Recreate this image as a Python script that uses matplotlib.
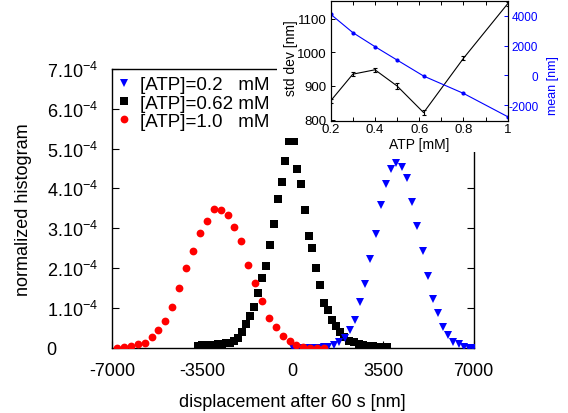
import matplotlib
matplotlib.use('Agg')
import matplotlib.pyplot as plt
from matplotlib.patches import Rectangle
from matplotlib.lines import Line2D
import numpy as np

plt.rcParams['font.family'] = ['Liberation Sans', 'DejaVu Sans']
plt.rcParams['mathtext.fontset'] = 'custom'
plt.rcParams['mathtext.rm'] = 'Liberation Sans'
plt.rcParams['mathtext.default'] = 'regular'
plt.rcParams['axes.unicode_minus'] = False

# ---------------- data: main histogram (y in units of 1e-4) ----------------
red_x = [-6816, -6540, -6270, -6000, -5730, -5460, -5200, -4930, -4660, -4400,
         -4130, -3860, -3590, -3320, -3060, -2790, -2520, -2260, -1990, -1720,
         -1450, -1190, -930, -660, -395, -125, 140, 410, 670, 940, 1210]
red_y = [0.00, 0.03, 0.05, 0.09, 0.13, 0.26, 0.45, 0.66, 1.02, 1.51,
         1.99, 2.43, 2.88, 3.18, 3.49, 3.47, 3.34, 3.04, 2.67, 2.08,
         1.62, 1.18, 0.75, 0.52, 0.30, 0.17, 0.08, 0.01, 0.0, 0.0, 0.0]

black_x = [-3667, -3513, -3358, -3203, -3048, -2893, -2738, -2583, -2428, -2273,
           -2118, -1964, -1809, -1654, -1499, -1344, -1189, -1034, -879, -724,
           -569, -434, -298, -143, 31, 167, 321, 476, 631, 747,
           902, 1057, 1212, 1367, 1522, 1677, 1832, 1998, 2180, 2373,
           2556, 2734, 2928, 3122, 3315, 3509, 3652]
black_y = [0.055, 0.06, 0.063, 0.068, 0.076, 0.086, 0.093, 0.106, 0.118, 0.156,
           0.244, 0.395, 0.584, 0.798, 1.018, 1.365, 1.756, 2.045, 2.569, 3.108,
           3.733, 4.166, 4.690, 5.194, 5.194, 4.476, 4.123, 3.469, 2.806, 2.511,
           2.0, 1.579, 1.126, 0.957, 0.705, 0.539, 0.403, 0.262, 0.176, 0.136,
           0.093, 0.068, 0.05, 0.035, 0.025, 0.018, 0.018]

blue_x = [12, 205, 399, 593, 806, 999, 1193, 1379, 1580, 1805,
          2026, 2208, 2424, 2607, 2812, 3005, 3215, 3420, 3614, 3807,
          4001, 4222, 4415, 4632, 4814, 5035, 5229, 5422, 5639, 5833,
          6026, 6220, 6452, 6634, 6816, 6995]
blue_y = [0.0, 0.0, 0.0, 0.0, 0.0, 0.0, 0.01, 0.03, 0.068, 0.136,
          0.244, 0.438, 0.69, 1.144, 1.605, 2.234, 2.856, 3.594, 4.106, 4.476,
          4.645, 4.544, 4.267, 3.652, 3.065, 2.418, 1.806, 1.227, 0.874, 0.529,
          0.327, 0.151, 0.093, 0.025, 0.0, 0.0]

labels = ['[ATP]=0.2   mM', '[ATP]=0.62 mM', '[ATP]=1.0   mM']
x_ticks = [-7000, -3500, 0, 3500, 7000]
x_ticklabels = ['-7000', '-3500', '0', '3500', '7000']
y_ticks = [0, 1, 2, 3, 4, 5, 6, 7]
y_ticklabels = ['0'] + ['%d.10$^{-4}$' % k for k in range(1, 8)]

# ---------------- data: inset ----------------
atp = [0.2, 0.3, 0.4, 0.5, 0.62, 0.8, 1.0]
std_dev = [856, 935, 948, 900, 821, 982, 1144]
std_err = [6, 5, 6, 8, 8, 6, 6]
mean_disp = [4108, 2875, 1932, 1030, -47, -1212, -2781]
inset_xticks = [0.2, 0.4, 0.6, 0.8, 1.0]
inset_xticklabels = ['0.2', '0.4', '0.6', '0.8', '1']
inset_xminor = [0.3, 0.5, 0.7, 0.9]
inset_yticks = [800, 900, 1000, 1100]
inset_rticks = [-2000, 0, 2000, 4000]

# ---------------- figure ----------------
fig = plt.figure(figsize=(5.68, 4.14), dpi=100)
W, H = 568.0, 414.0
ax = fig.add_axes([112 / W, 1 - 348.7 / H, 361.5 / W, 278.7 / H])
ax.set_zorder(0)

scale = 1e-4
ax.plot(black_x, np.array(black_y) * scale, ls='none', marker='s', ms=5.6,
        color='black', mew=0, zorder=3)
ax.plot(blue_x, np.array(blue_y) * scale, ls='none', marker='v', ms=6.2,
        color='#0000ff', mew=0, zorder=4)
ax.plot(red_x, np.array(red_y) * scale, ls='none', marker='o', ms=5.6,
        color='#ff0000', mew=0, zorder=5)

ax.set_xlim(-7000, 7000)
ax.set_ylim(0, 7e-4)
ax.set_xticks(x_ticks)
ax.set_xticklabels(x_ticklabels)
ax.set_yticks(np.array(y_ticks) * scale)
ax.set_yticklabels(y_ticklabels)
ax.tick_params(direction='in', length=5, width=0.8, labelsize=13, right=True,
               top=False, bottom=True)
ax.tick_params(axis='x', pad=10)
ax.tick_params(axis='y', pad=47)
for lbl in ax.get_yticklabels():
    lbl.set_horizontalalignment('left')
for s in ax.spines.values():
    s.set_linewidth(1.0)

ax.set_xlabel('displacement after 60 s [nm]', fontsize=13)
ax.set_ylabel('normalized histogram', fontsize=13)
ax.xaxis.set_label_coords(0.5, -0.163)
ax.yaxis.set_label_coords(-0.222, 0.5)

handles = [
    Line2D([], [], ls='none', marker='v', ms=6.2, color='#0000ff', mew=0),
    Line2D([], [], ls='none', marker='s', ms=5.6, color='black', mew=0),
    Line2D([], [], ls='none', marker='o', ms=5.6, color='#ff0000', mew=0),
]
ax.legend(handles, labels, loc='upper left', bbox_to_anchor=(0.0, 0.975),
          frameon=False, fontsize=13.5, handlelength=1.28, handletextpad=0.22,
          borderaxespad=0.0, borderpad=0.0, labelspacing=0.07)

# white area where the inset was pasted
fig.add_artist(Rectangle((277 / W, 1 - 139 / H), 1, 1, transform=fig.transFigure,
                         facecolor='white', edgecolor='none', zorder=1))
fig.add_artist(Rectangle((322 / W, 1 - 153 / H), 1, 1, transform=fig.transFigure,
                         facecolor='white', edgecolor='none', zorder=1))

# ---------------- inset ----------------
axi = fig.add_axes([330.7 / W, 1 - 121.7 / H, 177 / W, 119.7 / H])
axi.set_zorder(3)
axi.errorbar(atp, std_dev, yerr=std_err, color='black', lw=0.8, elinewidth=0.8,
             capsize=1.5, capthick=0.8)
axi.set_xlim(0.2, 1.0)
axi.set_ylim(797, 1152)
axi.set_xticks(inset_xticks)
axi.set_xticklabels(inset_xticklabels)
axi.set_xticks(inset_xminor, minor=True)
axi.set_yticks(inset_yticks)
axi.tick_params(direction='in', length=3, width=0.7, labelsize=9.5, top=True,
                right=False, pad=2)
axi.tick_params(axis='y', pad=3)
axi.tick_params(which='minor', direction='in', length=3, width=0.7, top=True)
axi.set_xlabel('ATP [mM]', fontsize=10, labelpad=1)
axi.set_ylabel('std dev [nm]', fontsize=10)
axi.yaxis.set_label_coords(-0.183, 0.53)
for s in axi.spines.values():
    s.set_linewidth(0.8)

axr = axi.twinx()
axr.set_zorder(4)
axr.plot(atp, mean_disp, color='#0000ff', lw=0.8, marker='o', ms=2)
axr.set_ylim(-3050, 5000)
axr.set_yticks(inset_rticks)
axr.tick_params(axis='y', direction='in', length=3, width=0.7, labelsize=8.5,
                colors='#0000ff', pad=22)
for lbl in axr.get_yticklabels():
    lbl.set_horizontalalignment('right')
axr.set_ylabel('mean [nm]', fontsize=9, color='#0000ff')
axr.yaxis.set_label_coords(1.22, 0.30)
for s in axr.spines.values():
    s.set_linewidth(0.8)

fig.savefig('out.png', dpi=100)
